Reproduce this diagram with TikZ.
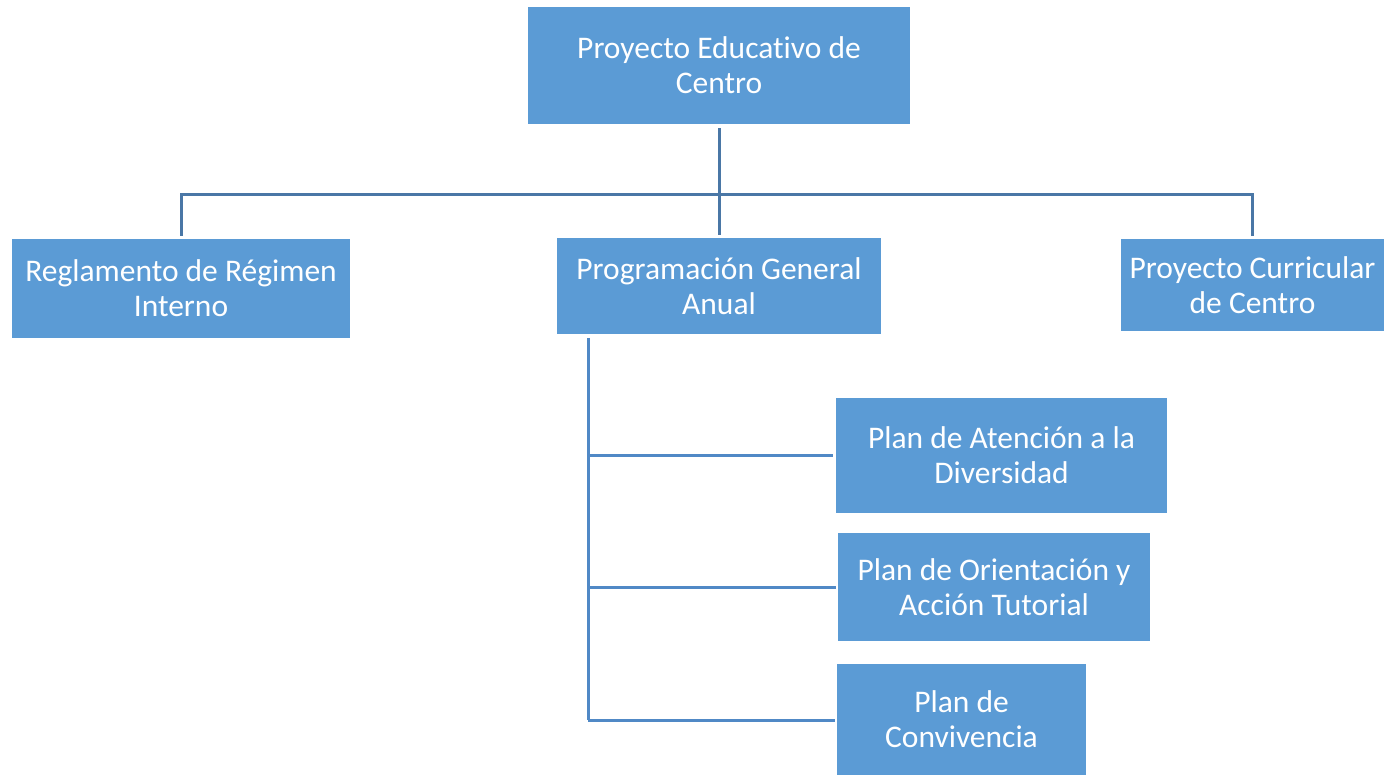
\documentclass[tikz,border=0pt]{standalone}
\usepackage{fontspec}
\setmainfont{Carlito}[Ligatures=NoCommon]
\definecolor{boxblue}{HTML}{5B9BD5}
\definecolor{topline}{HTML}{4A77A6}
\definecolor{lowline}{HTML}{5089C6}
\begin{document}
\begin{tikzpicture}[x=1pt,y=-1pt,
  box/.style={rectangle, fill=boxblue, draw=none, text=white, align=center,
    inner sep=0pt, font=\fontsize{31.5}{35}\selectfont},
  tline/.style={draw=topline, line width=3pt},
  lline/.style={draw=lowline, line width=3pt}]
\useasboundingbox (0,0) rectangle (1386,775);
\node[box, minimum width=382pt, minimum height=117pt] (pec) at (719,65.5) {Proyecto Educativo de\\Centro};
\node[box, minimum width=338pt, minimum height=99pt] (rri) at (181,288.5) {Reglamento de Régimen\\Interno};
\node[box, minimum width=324pt, minimum height=96pt] (pga) at (719,286) {Programación General\\Anual};
\node[box, minimum width=263pt, minimum height=92pt] (pcc) at (1252.5,285) {Proyecto Curricular\\de Centro};
\node[box, minimum width=331pt, minimum height=115pt] (pad) at (1001.5,455.5) {Plan de Atención a la\\Diversidad};
\node[box, minimum width=312pt, minimum height=108pt] (poat) at (994,587) {Plan de Orientación y\\Acción Tutorial};
\node[box, minimum width=249pt, minimum height=111pt] (pc) at (961.5,719.5) {Plan de\\Convivencia};
\coordinate (bus) at (719,195);
\coordinate (trunk) at (588,338);
\coordinate (trunkend) at (588,720);
\draw[tline, shorten <=4pt, shorten >=3pt] (pec.south) -- (pga.north);
\draw[tline, shorten <=3pt, shorten >=3pt] (rri.north) |- (bus) -| (pcc.north);
\draw[lline] (trunk) -- (trunkend);
\draw[lline, shorten >=3pt] (trunk |- pad.west) -- (pad.west);
\draw[lline, shorten >=2pt] (trunk |- poat.west) -- (poat.west);
\draw[lline, shorten >=2pt] (trunkend) -- (trunkend -| pc.west);
\end{tikzpicture}
\end{document}
